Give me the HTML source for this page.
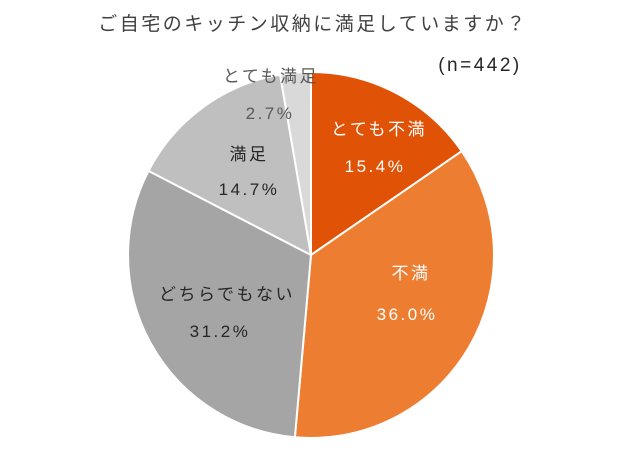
<!DOCTYPE html>
<html><head><meta charset="utf-8"><style>
html,body{margin:0;padding:0;background:#fff;}
body{width:640px;height:450px;overflow:hidden;}
text{font-family:"Liberation Sans","Noto Sans CJK JP",sans-serif;}
</style></head><body>
<svg width="640" height="450" viewBox="0 0 640 450" xmlns="http://www.w3.org/2000/svg">
<rect width="640" height="450" fill="#fff"/>
<text x="313" y="30" font-size="19" letter-spacing="2.5" text-anchor="middle" fill="#404040">ご自宅のキッチン収納に満足していますか？</text>
<text x="480" y="71" font-size="19" letter-spacing="2.5" text-anchor="middle" fill="#262626">(n=442)</text>
<g stroke="#fff" stroke-width="2" stroke-linejoin="round">
<path d="M311,255 L311,72 A183,183 0 0 1 461.7,151.2 Z" fill="#E05206"/>
<path d="M311,255 L461.7,151.2 A183,183 0 0 1 294.9,437.3 Z" fill="#ED7D31"/>
<path d="M311,255 L294.9,437.3 A183,183 0 0 1 148.5,170.9 Z" fill="#A5A5A5"/>
<path d="M311,255 L148.5,170.9 A183,183 0 0 1 280.1,74.6 Z" fill="#BFBFBF"/>
<path d="M311,255 L280.1,74.6 A183,183 0 0 1 311,72 Z" fill="#D9D9D9"/>
</g>
<g font-size="17" letter-spacing="2.5" text-anchor="middle">
<text x="379" y="135" fill="#fff">とても不満</text>
<text x="375" y="172" fill="#fff">15.4%</text>
<text x="411" y="279" fill="#fff">不満</text>
<text x="407" y="320" fill="#fff">36.0%</text>
<text x="227" y="300" fill="#262626">どちらでもない</text>
<text x="220" y="337" fill="#262626">31.2%</text>
<text x="249" y="160" fill="#262626">満足</text>
<text x="249" y="195" fill="#262626">14.7%</text>
<text x="271" y="82" fill="#595959">とても満足</text>
<text x="270" y="119" fill="#595959">2.7%</text>
</g>
</svg>
</body></html>
